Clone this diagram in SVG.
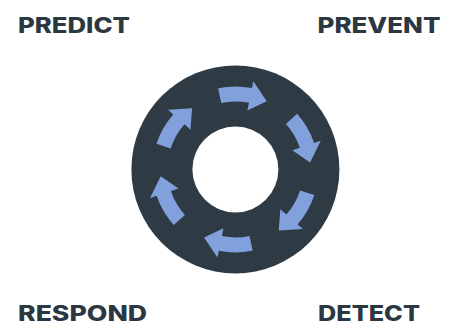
<svg xmlns="http://www.w3.org/2000/svg" xmlns:xlink="http://www.w3.org/1999/xlink" width="451" height="325" viewBox="0 0 451 325">
  <style>
    .label { font-family: Inter, "Liberation Sans", sans-serif; font-weight: 800; font-size: 21px; fill: #2b3741; }
    .ring { fill: #2e3a44; }
    .hole { fill: #ffffff; }
    .arrow { fill: #82a1dc; }
  </style>
  <defs>
    <!-- one clockwise curved arrow, centred on the ring's origin -->
    <path id="cw-arrow" class="arrow" d="M -17.26 -81.18 A 83 83 0 0 1 16.55 -81.33 L 17.95 -88.19 L 31.34 -68.14 L 11.96 -58.79 L 13.56 -66.63 A 68 68 0 0 0 -14.14 -66.51 Z"/>
  </defs>

  <g id="cycle" transform="translate(235.4 169.4)">
    <circle class="ring" r="104"/>
    <circle class="hole" r="43"/>
    <g id="connectors">
      <use xlink:href="#cw-arrow"/>
      <use xlink:href="#cw-arrow" transform="rotate(60)"/>
      <use xlink:href="#cw-arrow" transform="rotate(120)"/>
      <use xlink:href="#cw-arrow" transform="rotate(180)"/>
      <use xlink:href="#cw-arrow" transform="rotate(240)"/>
      <use xlink:href="#cw-arrow" transform="rotate(300)"/>
    </g>
  </g>

  <g id="predict"><text class="label" x="18" y="32.7" textLength="112" lengthAdjust="spacingAndGlyphs">PREDICT</text></g>
  <g id="prevent"><text class="label" x="317.5" y="32.7" textLength="123" lengthAdjust="spacingAndGlyphs">PREVENT</text></g>
  <g id="respond"><text class="label" x="18" y="320.7" textLength="129" lengthAdjust="spacingAndGlyphs">RESPOND</text></g>
  <g id="detect"><text class="label" x="318" y="320.7" textLength="102" lengthAdjust="spacingAndGlyphs">DETECT</text></g>
</svg>
